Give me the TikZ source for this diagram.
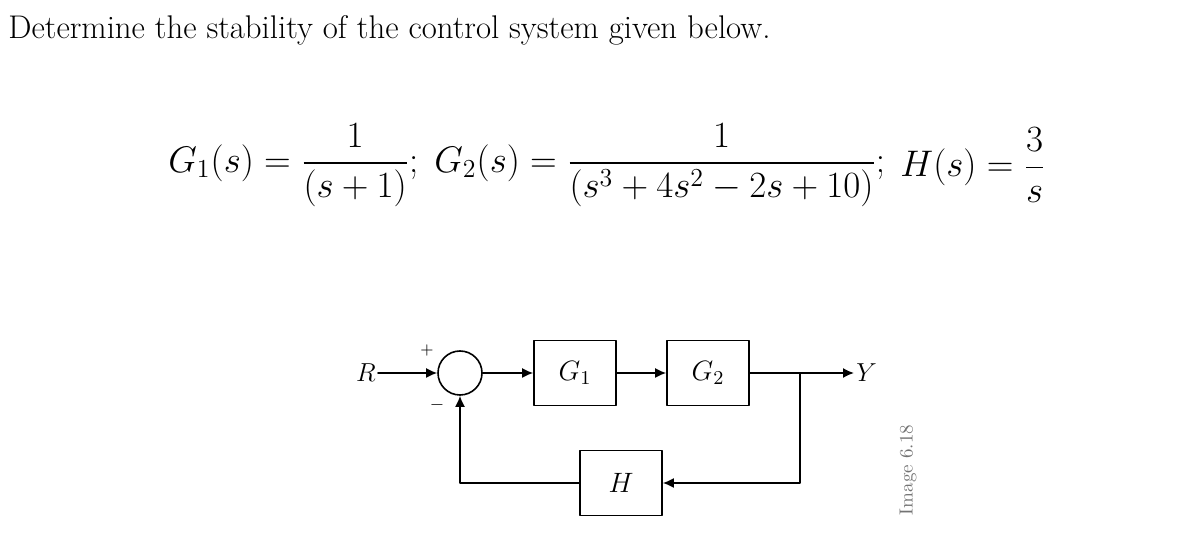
\RequirePackage{fix-cm}
\documentclass[tikz,border=0pt]{standalone}
\usepackage{amsmath,amssymb}
\usepackage{fontspec}
\usetikzlibrary{arrows.meta}

\begin{document}
\begin{tikzpicture}[x=0.5pt, y=-0.5pt, line cap=round, line join=round,
      >={Latex[length=5.5pt,width=5pt]}, every node/.style={inner sep=1pt}]
    \tikzset{blockbox/.style={draw, thick, minimum width=41pt, minimum height=32.5pt, inner sep=0pt,
        font=\fontsize{14}{16}\selectfont},
      sumnode/.style={draw, thick, circle, minimum size=22pt, inner sep=0pt},
      tfun/.style={anchor=west, font=\fontsize{18.5}{22}\selectfont},
      link/.style={thick, ->}}
    \useasboundingbox (0,0) rectangle (1195,550);
    % ==== question and transfer functions ====
    \node[anchor=base west, font=\fontsize{16.4}{19}\selectfont] (title) at (6,39)
      {Determine the stability of the control system given below.};
    \node[tfun] (gone) at (166,165) {$\displaystyle G_1(s) = \frac{1}{(s+1)};$};
    \node[tfun] (gtwo) at (432,165) {$\displaystyle G_2(s) = \frac{1}{(s^3 + 4s^2 - 2s + 10)};$};
    \node[tfun] (hfun) at (898,165) {$\displaystyle H(s) = \frac{3}{s}$};
    % ==== block diagram ====
    \node[sumnode] (sum) at (460,373) {};
    \node[anchor=east, font=\fontsize{13}{15}\selectfont] (R) at (378,373) {$R$};
    \node[font=\fontsize{8}{9}\selectfont] (plus) at (427,351) {$+$};
    \node[font=\fontsize{9}{10}\selectfont] (minus) at (437,405) {$-$};
    \node[blockbox] (G1) at (575,373) {$G_1$};
    \node[blockbox] (G2) at (708,373) {$G_2$};
    \node[blockbox] (H) at (621,483) {$H$};
    \node[anchor=west, font=\fontsize{13}{15}\selectfont] (Y) at (854,373) {$Y$};
    \coordinate (branch) at (800,373);
    % forward path
    \draw[link] (R) -- (sum);
    \draw[link] (sum) -- (G1);
    \draw[link] (G1) -- (G2);
    \draw[link] (G2) -- (Y);
    % feedback path
    \draw[link] (branch) |- (H);
    \draw[link] (H) -| (sum);
    % side caption
    \node[rotate=90, text=black!55, font=\fontsize{9.5}{11}\selectfont] (caption) at (908,470) {Image 6.18};
  \end{tikzpicture}
\end{document}
